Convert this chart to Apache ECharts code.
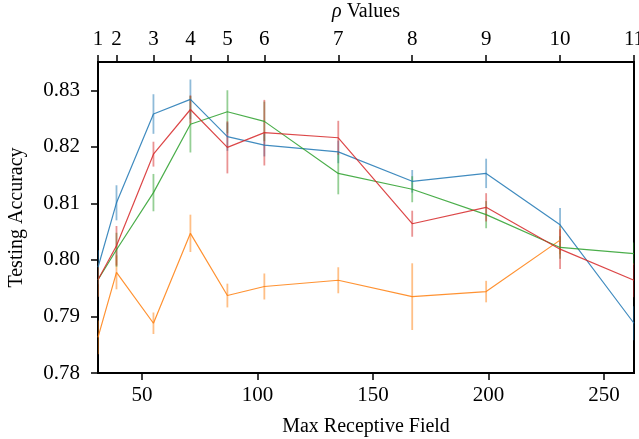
<!DOCTYPE html>
<html>
<head>
<meta charset="utf-8">
<script src="https://cdn.jsdelivr.net/npm/echarts@6/dist/echarts.min.js"></script>
<style>
  html, body { margin: 0; padding: 0; background: #fff; }
  #chart { width: 639px; height: 439px; }
</style>
</head>
<body>
<div id="chart"></div>
<script>
// receptive field for each rho value
var receptiveField = [31, 39, 55, 71, 87, 103, 135, 167, 199, 231, 263];
var rhoLabels = ['1', '2', '3', '4', '5', '6', '7', '8', '9', '10', '11'];
var bottomTicks = [50, 100, 150, 200, 250];
var yTicks = [0.78, 0.79, 0.80, 0.81, 0.82, 0.83];

var blueVals = [0.7987, 0.8101, 0.8258, 0.8284, 0.8218, 0.8203, 0.8191, 0.8139, 0.8153, 0.8062, 0.7888];
var blueErr = [0.003, 0.0031, 0.0035, 0.0035, 0.0025, 0.002, 0.002, 0.002, 0.0026, 0.003, 0.003];
var orangeVals = [0.7863, 0.7978, 0.7888, 0.8047, 0.7937, 0.7953, 0.7964, 0.7935, 0.7944, 0.8035];
var orangeErr = [0.003, 0.003, 0.0019, 0.0033, 0.0021, 0.0023, 0.0023, 0.0059, 0.0019, 0.0025];
var greenVals = [0.7965, 0.8018, 0.8119, 0.8240, 0.8262, 0.8245, 0.8153, 0.8125, 0.8080, 0.8022, 0.8011];
var greenErr = [0.003, 0.003, 0.0033, 0.005, 0.0038, 0.0035, 0.0037, 0.0023, 0.0024, 0.002, 0.002];
var redVals = [0.7965, 0.8025, 0.8187, 0.8266, 0.8199, 0.8225, 0.8216, 0.8064, 0.8093, 0.8019, 0.7964];
var redErr = [0.003, 0.0035, 0.0022, 0.0025, 0.0046, 0.0058, 0.003, 0.0023, 0.0025, 0.0035, 0.003];

var font = 'Liberation Serif';

const chart = echarts.init(document.getElementById('chart'));

const makeLine = (vals, color) => ({
  type: 'line',
  data: vals.map((v, i) => [receptiveField[i], v]),
  showSymbol: false,
  symbol: 'none',
  lineStyle: { color: color, width: 1.2, opacity: 0.85 },
  z: 3,
  animation: false,
});

const makeErr = (vals, errs, color) => ({
  type: 'custom',
  data: vals.map((v, i) => [receptiveField[i], v, errs[i]]),
  clip: true,
  z: 2,
  renderItem: function (params, api) {
    var x = api.value(0), m = api.value(1), e = api.value(2);
    var lo = api.coord([x, m - e]);
    var hi = api.coord([x, m + e]);
    return {
      type: 'line',
      shape: { x1: lo[0], y1: lo[1], x2: hi[0], y2: hi[1] },
      style: { stroke: color, lineWidth: 1.8, opacity: 0.5 },
    };
  },
  animation: false,
});

var colors = ['#1f77b4', '#ff7f0e', '#2ca02c', '#d62728'];

const option = {
  animation: false,
  grid: {
    left: 98, right: 5, top: 62, bottom: 66,
    outerBoundsMode: 'none',
    containLabel: false,
    show: true, borderColor: '#000', borderWidth: 2,
  },
  xAxis: [
    {
      type: 'value',
      min: 31, max: 263,
      position: 'bottom',
      name: 'Max Receptive Field',
      nameLocation: 'middle',
      nameGap: 44,
      nameTextStyle: { fontFamily: font, fontSize: 20, color: '#000' },
      axisLine: { lineStyle: { color: '#000', width: 2 } },
      axisTick: { show: true, length: 7, lineStyle: { color: '#000', width: 1.5 }, customValues: bottomTicks },
      axisLabel: { fontFamily: font, fontSize: 21, color: '#000', margin: 12, customValues: bottomTicks },
      splitLine: { show: false },
    },
    {
      type: 'value',
      min: 31, max: 263,
      position: 'top',
      name: '{i|ρ} Values',
      nameLocation: 'middle',
      nameGap: 40,
      nameTextStyle: {
        fontFamily: font, fontSize: 20, color: '#000',
        rich: { i: { fontFamily: font, fontSize: 20, fontStyle: 'italic', color: '#000' } },
      },
      axisLine: { lineStyle: { color: '#000', width: 2 } },
      axisTick: { show: true, length: 7, lineStyle: { color: '#000', width: 1.5 }, customValues: receptiveField },
      axisLabel: {
        fontFamily: font, fontSize: 21, color: '#000', margin: 12,
        customValues: receptiveField,
        formatter: v => rhoLabels[receptiveField.indexOf(v)],
      },
      splitLine: { show: false },
    },
  ],
  yAxis: {
    type: 'value',
    min: 0.78, max: 0.835,
    name: 'Testing Accuracy',
    nameLocation: 'middle',
    nameGap: 71,
    nameTextStyle: { fontFamily: font, fontSize: 20, color: '#000' },
    axisLine: { show: true, lineStyle: { color: '#000', width: 2 } },
    axisTick: { show: true, length: 7, lineStyle: { color: '#000', width: 1.5 }, customValues: yTicks },
    axisLabel: {
      fontFamily: font, fontSize: 21, color: '#000', margin: 18,
      customValues: yTicks,
      formatter: v => v.toFixed(2),
    },
    splitLine: { show: false },
  },
  series: [
    makeErr(blueVals, blueErr, colors[0]),
    makeErr(orangeVals, orangeErr, colors[1]),
    makeErr(greenVals, greenErr, colors[2]),
    makeErr(redVals, redErr, colors[3]),
    makeLine(blueVals, colors[0]),
    makeLine(orangeVals, colors[1]),
    makeLine(greenVals, colors[2]),
    makeLine(redVals, colors[3]),
  ],
};

chart.setOption(option);
</script>
</body>
</html>
